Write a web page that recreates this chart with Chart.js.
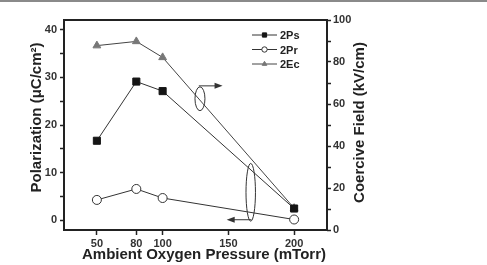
<!DOCTYPE html>
<html>
<head>
<meta charset="utf-8">
<script src="https://cdn.jsdelivr.net/npm/chart.js@4/dist/chart.umd.min.js"></script>
<style>
  html, body { margin: 0; padding: 0; background: #fff; }
  #wrap { width: 487px; height: 265px; position: relative; border-top: 2px solid #8a8a8a; box-sizing: border-box; }
</style>
</head>
<body>
<div id="wrap"><canvas id="chart" width="487" height="263"></canvas></div>
<script>
// values
const pressure = [50, 80, 100, 200];           // mTorr
const ps = [16.7, 29.1, 27.1, 2.5];             // 2Ps, uC/cm2 (left axis)
const pr = [4.3, 6.6, 4.7, 0.2];                // 2Pr, uC/cm2 (left axis)
const ec = [87.8, 89.8, 82.2, 10.4];            // 2Ec, kV/cm (right axis)
const xTicks = [50, 80, 100, 150, 200];

const FONT = "'Liberation Sans', Arial, sans-serif";
const pts = (ys) => pressure.map((x, i) => ({x: x, y: ys[i]}));

// frame around the plot area + the three axis titles
const frame = {
  id: 'frame',
  afterDraw(chart, args, opts) {
    const {ctx, chartArea: a} = chart;
    const midY = (a.top + a.bottom) / 2, midX = (a.left + a.right) / 2;
    ctx.save();
    ctx.strokeStyle = '#222';
    ctx.lineWidth = 2;
    ctx.strokeRect(a.left, a.top, a.right - a.left, a.bottom - a.top);
    ctx.fillStyle = '#222';
    ctx.font = 'bold 15px ' + FONT;
    ctx.textAlign = 'center';
    ctx.textBaseline = 'middle';
    const vtitle = (text, x, y) => {
      ctx.save();
      ctx.translate(x, y);
      ctx.rotate(-Math.PI / 2);
      ctx.fillText(text, 0, 0);
      ctx.restore();
    };
    vtitle(opts.leftTitle, a.left - 27, midY - 7.5);
    vtitle(opts.rightTitle, a.right + 33, midY - 2.5);
    ctx.fillText(opts.bottomTitle, midX + 8.5, a.bottom + 25);
    ctx.restore();
  }
};

// ellipses + arrows pointing to the axis each group belongs to
const marks = {
  id: 'marks',
  afterDatasetsDraw(chart, args, opts) {
    const {ctx, scales} = chart;
    const sx = scales.x, sy = scales.y;
    ctx.save();
    ctx.strokeStyle = '#333';
    ctx.fillStyle = '#333';
    ctx.lineWidth = 1;
    opts.items.forEach(m => {
      const cx = sx.getPixelForValue(m.cx), cy = sy.getPixelForValue(m.cy);
      const rx = Math.abs(sx.getPixelForValue(m.cx + m.rx) - cx);
      const ry = Math.abs(sy.getPixelForValue(m.cy + m.ry) - cy);
      ctx.beginPath();
      ctx.ellipse(cx, cy, rx, ry, 0, 0, Math.PI * 2);
      ctx.stroke();
      const x0 = sx.getPixelForValue(m.ax0), x1 = sx.getPixelForValue(m.ax1);
      const ay = sy.getPixelForValue(m.ay);
      const dir = Math.sign(x1 - x0);
      ctx.beginPath();
      ctx.moveTo(x0, ay);
      ctx.lineTo(x1 - dir * 6, ay);
      ctx.stroke();
      ctx.beginPath();
      ctx.moveTo(x1, ay);
      ctx.lineTo(x1 - dir * 8, ay - 3);
      ctx.lineTo(x1 - dir * 8, ay + 3);
      ctx.closePath();
      ctx.fill();
    });
    ctx.restore();
  }
};

// legend drawn as line + marker + label inside the plot
const innerLegend = {
  id: 'innerLegend',
  afterDraw(chart, args, opts) {
    const {ctx} = chart;
    ctx.save();
    chart.data.datasets.forEach((ds, i) => {
      const y = opts.y + i * opts.gap;
      ctx.strokeStyle = ds.borderColor;
      ctx.lineWidth = 1;
      ctx.beginPath();
      ctx.moveTo(opts.x, y);
      ctx.lineTo(opts.x + opts.len, y);
      ctx.stroke();
      ctx.fillStyle = ds.pointBackgroundColor;
      ctx.strokeStyle = ds.pointBorderColor;
      ctx.lineWidth = 1;
      Chart.helpers.drawPoint(ctx, {pointStyle: ds.pointStyle, radius: ds.pointRadius * 0.6, rotation: 0, borderWidth: 1}, opts.x + opts.len / 2, y);
      ctx.fillStyle = '#222';
      ctx.font = 'bold 11px ' + FONT;
      ctx.textBaseline = 'middle';
      ctx.fillText(ds.label, opts.x + opts.len + 3, y + 1);
    });
    ctx.restore();
  }
};

const tickFont = {family: FONT, size: 11, weight: 'bold'};

new Chart(document.getElementById('chart'), {
  type: 'line',
  data: {
    datasets: [{
      label: '2Ps',
      data: pts(ps),
      yAxisID: 'y',
      borderColor: '#333',
      borderWidth: 1,
      pointStyle: 'rect',
      pointRadius: 5,
      pointBackgroundColor: '#151515',
      pointBorderColor: '#151515'
    }, {
      label: '2Pr',
      data: pts(pr),
      yAxisID: 'y',
      borderColor: '#333',
      borderWidth: 1,
      pointStyle: 'circle',
      pointRadius: 4.5,
      pointBackgroundColor: '#fff',
      pointBorderColor: '#333'
    }, {
      label: '2Ec',
      data: pts(ec),
      yAxisID: 'y1',
      borderColor: '#444',
      borderWidth: 1,
      pointStyle: 'triangle',
      pointRadius: 4.5,
      pointBackgroundColor: '#777',
      pointBorderColor: '#777'
    }]
  },
  options: {
    responsive: false,
    animation: false,
    layout: {padding: {left: 28, right: 119, top: 18, bottom: 0}},
    plugins: {
      legend: {display: false},
      tooltip: {enabled: false},
      frame: {
        leftTitle: 'Polarization (μC/cm²)',
        rightTitle: 'Coercive Field (kV/cm)',
        bottomTitle: 'Ambient Oxygen Pressure (mTorr)'
      },
      innerLegend: {x: 252, y: 33, gap: 14.5, len: 25},
      marks: {items: [
        {cx: 128.4, cy: 25.5, rx: 3.8, ry: 2.5, ax0: 127.5, ax1: 145.6, ay: 28.2},
        {cx: 167, cy: 5.9, rx: 3.6, ry: 6.05, ax0: 167.5, ax1: 148.7, ay: 0.15}
      ]}
    },
    scales: {
      x: {
        type: 'linear',
        min: 25, max: 225,
        afterBuildTicks: s => { s.ticks = xTicks.map(v => ({value: v})); },
        afterFit: s => { s.height = 35; },
        border: {display: false},
        grid: {drawOnChartArea: false, drawTicks: true, tickLength: 5, tickColor: '#222', tickWidth: 1.5},
        ticks: {color: '#333', font: tickFont, padding: 2, maxRotation: 0},
        title: {display: false}
      },
      y: {
        position: 'left',
        min: -2, max: 42,
        afterFit: s => { s.width = 36; },
        border: {display: false},
        grid: {drawOnChartArea: false, drawTicks: true, tickLength: 4, tickColor: '#222', tickWidth: 1.5},
        ticks: {stepSize: 5, includeBounds: false, color: '#333', font: tickFont, padding: 3,
          callback: v => (v % 10 === 0 ? v : '')},
        title: {display: false}
      },
      y1: {
        position: 'right',
        min: 0, max: 100,
        afterFit: s => { s.width = 41; },
        border: {display: false},
        grid: {drawOnChartArea: false, drawTicks: true, tickLength: 4, tickColor: '#222', tickWidth: 1.5},
        ticks: {stepSize: 10, color: '#333', font: tickFont, padding: 2,
          callback: v => (v % 20 === 0 ? v : '')},
        title: {display: false}
      }
    }
  },
  plugins: [frame, marks, innerLegend]
});
</script>
</body>
</html>
